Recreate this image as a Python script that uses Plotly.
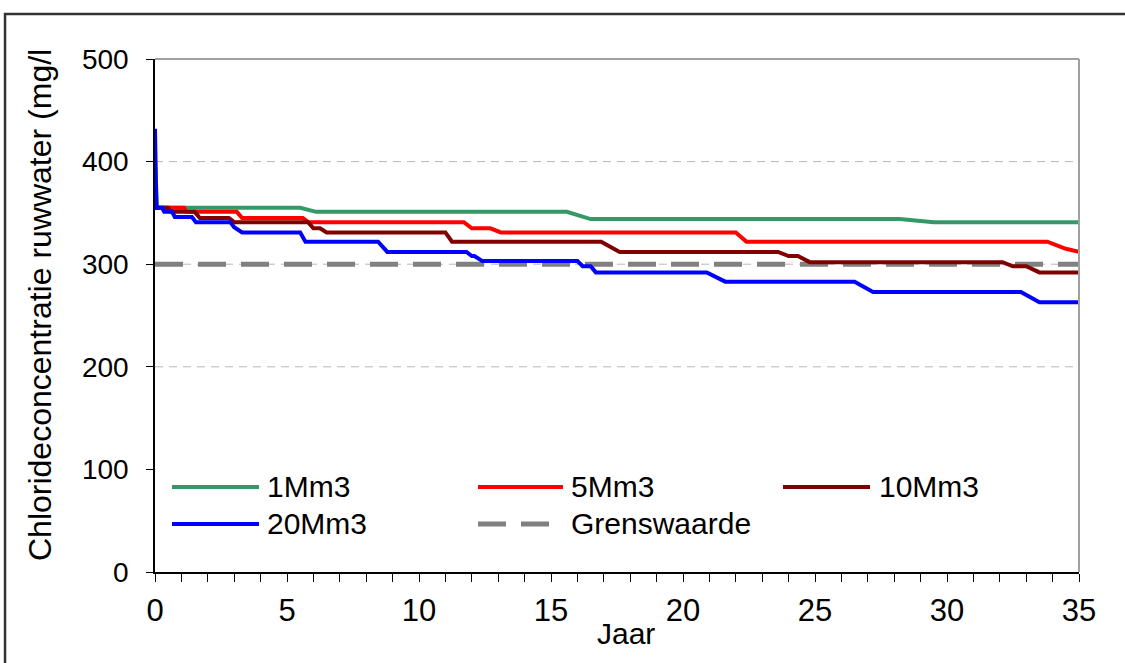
import plotly.graph_objects as go

# Chloride concentration of raw water per scenario (years vs mg/l)
green_x = [0, 0.08, 5.5, 6.1, 15.6, 16.5, 28.2, 29.5, 35]
green_y = [400, 355, 355, 351, 351, 344, 344, 341, 341]

red_x = [0, 1.1, 1.2, 3.1, 3.3, 5.6, 5.8, 11.7, 12.0, 12.7, 13.1, 22.0, 22.4, 33.8, 34.5, 35]
red_y = [355, 355, 351, 351, 345, 345, 341, 341, 335, 335, 331, 331, 322, 322, 315, 312]

darkred_x = [0, 0.5, 0.6, 1.5, 1.7, 2.8, 3.0, 5.8, 6.0, 6.25, 6.5, 11.0, 11.25, 16.9, 17.6,
             23.6, 24.0, 24.35, 24.8, 32.1, 32.5, 33.0, 33.5, 35]
darkred_y = [355, 355, 351, 351, 345, 345, 341, 341, 335, 335, 331, 331, 322, 322, 312,
             312, 308, 308, 302, 302, 298, 298, 292, 292]

blue_x = [0, 0.05, 0.27, 0.35, 0.65, 0.75, 1.4, 1.55, 2.85, 3.0, 3.3, 5.5, 5.7, 8.45, 8.8,
          11.8, 12.0, 12.1, 12.4, 16.0, 16.2, 16.5, 16.7, 20.9, 21.6, 26.5, 27.2, 32.8, 33.5, 35]
blue_y = [432, 355, 355, 351, 351, 346, 346, 341, 341, 336, 331, 331, 322, 322, 312,
          312, 308, 308, 303, 303, 298, 298, 292, 292, 283, 283, 273, 273, 263, 263]

limit_x = [0, 35]
limit_y = [300, 300]

y_ticks = [0, 100, 200, 300, 400, 500]
x_ticks = [0, 5, 10, 15, 20, 25, 30, 35]
grid_levels = [200, 300, 400]   # levels above the legend area

names = ["1Mm3", "5Mm3", "10Mm3", "20Mm3", "Grenswaarde"]
colors = ["#339966", "#FF0000", "#800000", "#0000FF", "#808080"]

FONT = "Liberation Sans, Arial, sans-serif"

fig = go.Figure()

fig.add_trace(go.Scatter(x=limit_x, y=limit_y, mode="lines", name=names[4],
                         line=dict(color=colors[4], width=5, dash="28px,15px")))
for xs, ys, nm, col in [(green_x, green_y, names[0], colors[0]),
                        (red_x, red_y, names[1], colors[1]),
                        (darkred_x, darkred_y, names[2], colors[2]),
                        (blue_x, blue_y, names[3], colors[3])]:
    fig.add_trace(go.Scatter(x=xs, y=ys, mode="lines", name=nm,
                             line=dict(color=col, width=4)))

shapes = []
# dashed horizontal gridlines
for g in grid_levels:
    shapes.append(dict(type="line", xref="paper", yref="y", x0=0, x1=1, y0=g, y1=g,
                       line=dict(color="#b8b8b8", width=1, dash="8px,6px"), layer="below"))
# outer chart frame
shapes.append(dict(type="rect", xref="paper", yref="paper", x0=-0.1623, x1=1.2,
                   y0=-0.4, y1=1.0877, line=dict(color="#333333", width=2.5),
                   fillcolor="rgba(0,0,0,0)", layer="below"))
# plot-area top and right border
shapes.append(dict(type="line", xref="paper", yref="paper", x0=0, x1=1, y0=1, y1=1,
                   line=dict(color="#a0a0a0", width=2)))
shapes.append(dict(type="line", xref="paper", yref="paper", x0=1, x1=1, y0=0, y1=1,
                   line=dict(color="#a0a0a0", width=2)))

annotations = []
# legend entries, three per row
rows = [0.1657, 0.0936]
cols = [(172, 259, 265), (478, 563, 569), (783, 870, 877)]
def px(p):
    return (p - 155) / 924.0
for i, k in enumerate(range(5)):
    r, c = divmod(i, 3)
    x0, x1, xt = cols[c]
    dash = "28px,15px" if k == 4 else "solid"
    width = 5 if k == 4 else 4
    shapes.append(dict(type="line", xref="paper", yref="paper", x0=px(x0), x1=px(x1),
                       y0=rows[r], y1=rows[r],
                       line=dict(color=colors[k], width=width, dash=dash)))
    annotations.append(dict(xref="paper", yref="paper", x=px(xt), y=rows[r],
                            text=names[k], showarrow=False, xanchor="left", yanchor="middle",
                            font=dict(family=FONT, size=30, color="black")))

annotations.append(dict(xref="paper", yref="paper", x=px(40), y=(572 - 305) / 513.0,
                        text="Chlorideconcentratie ruwwater (mg/l", textangle=-90,
                        showarrow=False, xanchor="center", yanchor="middle",
                        font=dict(family=FONT, size=32, color="black")))
annotations.append(dict(xref="paper", yref="paper", x=px(626), y=(572 - 633) / 513.0,
                        text="Jaar", showarrow=False, xanchor="center", yanchor="middle",
                        font=dict(family=FONT, size=30, color="black")))

fig.update_layout(
    width=1125, height=663,
    margin=dict(l=155, r=46, t=59, b=91),
    paper_bgcolor="white", plot_bgcolor="white",
    showlegend=False,
    shapes=shapes, annotations=annotations,
    xaxis=dict(range=[0, 35], tickmode="array", tickvals=x_ticks,
               showgrid=False, zeroline=False, showline=True, linecolor="black", linewidth=1.5,
               ticks="outside", ticklen=8, tickcolor="black", tickwidth=1,
               minor=dict(dtick=1, ticks="outside", ticklen=8, tickcolor="black", tickwidth=1,
                          showgrid=False),
               tickfont=dict(family=FONT, size=31, color="black"), ticklabelstandoff=2),
    yaxis=dict(range=[0, 500], tickvals=y_ticks,
               showgrid=False, zeroline=False, showline=True, linecolor="black", linewidth=1.5,
               ticks="outside", ticklen=7, tickcolor="black", tickwidth=1,
               tickfont=dict(family=FONT, size=28, color="black"), ticklabelstandoff=12),
)

fig.write_html("out.html")
